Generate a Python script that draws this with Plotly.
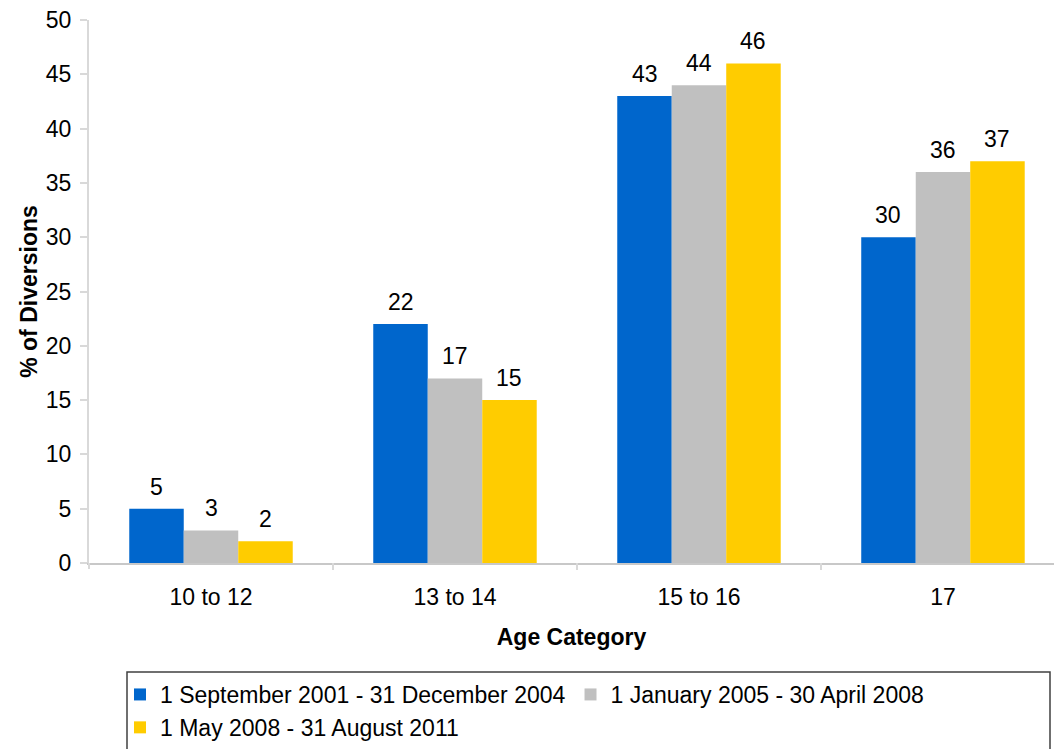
import plotly.graph_objects as go

categories = ["10 to 12", "13 to 14", "15 to 16", "17"]
series_names = [
    "1 September 2001 - 31 December 2004",
    "1 January 2005 - 30 April 2008",
    "1 May 2008 - 31 August 2011",
]
period1 = [5, 22, 43, 30]
period2 = [3, 17, 44, 36]
period3 = [2, 15, 46, 37]
y_ticks = [0, 5, 10, 15, 20, 25, 30, 35, 40, 45, 50]

colors = ["#0066CC", "#C0C0C0", "#FFCC00"]
FONT = "Liberation Sans, Arial, sans-serif"
FS = 23

W, H = 1054, 749
ml, mr, mt, mb = 89, 0, 20, 186
plot_h = H - mt - mb
plot_w = W - ml - mr
bargap = 0.33
n_series = 3

fig = go.Figure()
series = [period1, period2, period3]
for name, vals, col in zip(series_names, series, colors):
    fig.add_trace(go.Bar(
        x=list(range(len(categories))), y=vals, name=name,
        marker=dict(color=col, line=dict(width=0)),
    ))

# Value labels above each bar, offset within its group
bar_w = (1 - bargap) / n_series
for i, vals in enumerate(series):
    offset = -0.5 * (1 - bargap) + bar_w * (i + 0.5)
    for j, v in enumerate(vals):
        fig.add_annotation(
            x=j + offset, y=v, xref="x", yref="y",
            text=str(v), showarrow=False, yanchor="middle", yshift=22,
            font=dict(family=FONT, size=FS, color="#000000"),
        )

fig.update_layout(
    width=W, height=H,
    margin=dict(l=ml, r=mr, t=mt, b=mb),
    paper_bgcolor="white", plot_bgcolor="white",
    barmode="group", bargap=bargap, bargroupgap=0,
    font=dict(family=FONT, size=FS, color="#000000"),
    showlegend=True,
    legend=dict(
        orientation="h", x=(120 - ml) / plot_w, y=-110 / plot_h,
        xanchor="left", yanchor="top",
        font=dict(family=FONT, size=FS, color="#000000"),
        bgcolor="rgba(0,0,0,0)", borderwidth=0,
        traceorder="normal", tracegroupgap=0,
    ),
)

fig.update_xaxes(
    range=[-0.5, 3.455],
    tickvals=list(range(len(categories))), ticktext=categories,
    showline=True, linecolor="#C8C8C8", linewidth=2,
    ticks="", showgrid=False, zeroline=False,
    ticklabelstandoff=12,
    tickfont=dict(family=FONT, size=FS),
    title=dict(text="<b>Age Category</b>", font=dict(family=FONT, size=FS), standoff=20),
)
fig.update_yaxes(
    range=[0, 50], tickvals=y_ticks,
    showline=True, linecolor="#D9D9D9", linewidth=2,
    ticks="outside", ticklen=7, tickcolor="#D9D9D9", tickwidth=2,
    showgrid=False, zeroline=False,
    ticklabelstandoff=4,
    tickfont=dict(family=FONT, size=FS),
    title=dict(text="<b>% of Diversions</b>", font=dict(family=FONT, size=FS), standoff=2),
)

# Category boundary ticks below the x axis line
for k in range(1, len(categories) + 1):
    fig.add_shape(
        type="line", xref="x", yref="paper", x0=k - 0.5, x1=k - 0.5,
        y0=0, y1=-7 / plot_h, line=dict(color="#D9D9D9", width=2),
    )
# y axis line continues slightly below zero
fig.add_shape(
    type="line", xref="paper", yref="paper", x0=0, x1=0,
    y0=0, y1=-6 / plot_h, line=dict(color="#D9D9D9", width=2),
)

# Legend frame
fig.add_shape(
    type="rect", xref="paper", yref="paper",
    x0=(127 - ml) / plot_w, x1=(1050 - ml) / plot_w,
    y0=(H - mb - 752) / plot_h, y1=(H - mb - 672) / plot_h,
    line=dict(color="#404040", width=1.5), fillcolor="rgba(0,0,0,0)",
)

fig.write_html("out.html")
